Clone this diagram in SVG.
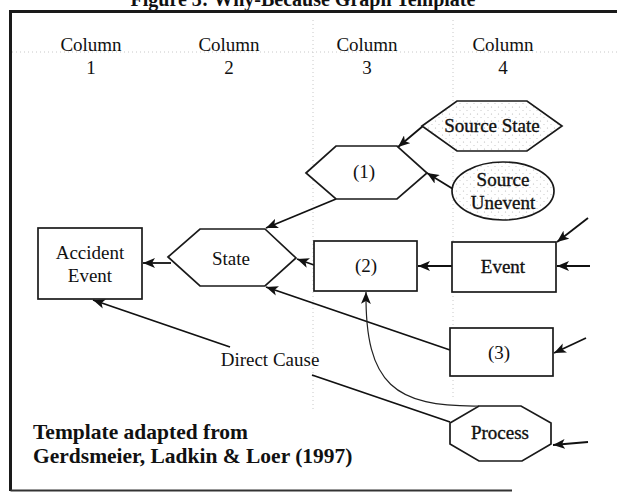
<svg xmlns="http://www.w3.org/2000/svg" width="617" height="493" viewBox="0 0 617 493">
  <style>
    .t { font-family: "Liberation Serif", "Times New Roman", serif; font-size: 19px; fill: #111; text-anchor: middle; }
    .heavy { stroke: #111; stroke-width: 0.35; }
    .b { font-weight: bold; }
    .shape { fill: #fff; stroke: #1a1a1a; stroke-width: 1.7; }
    .speck { fill: url(#speckle); stroke: #1a1a1a; stroke-width: 1.7; }
    .edge { fill: none; stroke: #111; stroke-width: 1.8; marker-end: url(#arrow); }
    .thin { fill: none; stroke: #222; stroke-width: 1.2; marker-end: url(#arrow); }
    .plain { fill: none; stroke: #111; stroke-width: 1.8; }
    .guide { fill: none; stroke: #c8c8c8; stroke-width: 1; stroke-dasharray: 1 3; }
  </style>
  <defs>
    <marker id="arrow" viewBox="0 0 12 10" markerWidth="12" markerHeight="10" refX="12" refY="5" orient="auto" markerUnits="userSpaceOnUse">
      <path d="M0,0 L12,5 L0,10 L3,5 z" fill="#111"/>
    </marker>
    <pattern id="speckle" width="7" height="7" patternUnits="userSpaceOnUse">
      <rect width="7" height="7" fill="#fff"/>
      <circle cx="1.5" cy="2" r="0.6" fill="#b4b4b4"/>
      <circle cx="5" cy="5.5" r="0.6" fill="#c4c4c4"/>
    </pattern>
  </defs>

  <rect width="617" height="493" fill="#fff"/>

  <!-- title, clipped by the top of the page -->
  <text class="t b" x="303" y="6" style="font-size:20px">Figure 3: Why-Because Graph Template</text>

  <!-- frame -->
  <path d="M10.5,491 L10.5,11.5 L617,11.5" fill="none" stroke="#1a1a1a" stroke-width="3"/>
  <path d="M10.5,490.5 L512,490.5" fill="none" stroke="#333" stroke-width="2.2"/>

  <!-- faint column guides -->
  <g id="guides">
    <path class="guide" d="M313,20 L313,410"/>
    <path class="guide" d="M453,20 L453,400"/>
    <path class="guide" d="M12,52 L617,52"/>
  </g>

  <!-- column headings -->
  <g id="headings">
    <text class="t" x="91" y="51">Column</text>
    <text class="t" x="91" y="74">1</text>
    <text class="t" x="229" y="51">Column</text>
    <text class="t" x="229" y="74">2</text>
    <text class="t" x="367" y="51">Column</text>
    <text class="t" x="367" y="74">3</text>
    <text class="t" x="503" y="51">Column</text>
    <text class="t" x="503" y="74">4</text>
  </g>

  <!-- connectors -->
  <g id="connectors">
    <path class="edge" d="M423,126 L398,147"/>
    <path class="edge" d="M453,189 L427,173"/>
    <path class="edge" d="M336,199 L266,228"/>
    <path class="edge" d="M314,265 L297,259"/>
    <path class="edge" d="M171,263 L143,263"/>
    <path class="edge" d="M450,350 L266,287"/>
    <path class="edge" d="M452,266 L418,266"/>
    <path class="edge" d="M588,218 L557,242"/>
    <path class="edge" d="M590,266 L557,266"/>
    <path class="edge" d="M586,338 L554,353"/>
    <path class="edge" d="M588,442 L553,445"/>
    <path class="thin" d="M479,406 C395,407 365,385 366,292"/>
    <path class="plain" d="M450,422 L312,375"/>
    <path class="edge" d="M230,347 L93,300"/>
  </g>

  <g id="source-state">
    <polygon class="speck" points="422,126 457,101 527,101 562,126 527,151 457,151"/>
    <text class="t heavy" x="492" y="132">Source State</text>
  </g>

  <g id="source-unevent">
    <ellipse class="speck" cx="503" cy="191" rx="51" ry="29"/>
    <text class="t heavy" x="503" y="186">Source</text>
    <text class="t heavy" x="503" y="209">Unevent</text>
  </g>

  <g id="state-1">
    <polygon class="shape" points="306,173 336,146 397,146 427,173 397,199 336,199"/>
    <text class="t" x="364" y="178">(1)</text>
  </g>

  <g id="state">
    <polygon class="shape" points="168,257 200,229 265,229 296,258 265,286 200,286"/>
    <text class="t" x="231" y="265">State</text>
  </g>

  <g id="accident-event">
    <rect class="shape" x="38" y="228" width="104" height="71"/>
    <text class="t" x="90" y="259">Accident</text>
    <text class="t" x="90" y="282">Event</text>
  </g>

  <g id="event-2">
    <rect class="shape" x="314" y="241" width="103" height="50"/>
    <text class="t" x="366" y="272">(2)</text>
  </g>

  <g id="event">
    <rect class="shape" x="452" y="242" width="104" height="50"/>
    <text class="t heavy" x="503" y="273">Event</text>
  </g>

  <g id="event-3">
    <rect class="shape" x="450" y="328" width="103" height="48"/>
    <text class="t" x="499" y="359">(3)</text>
  </g>

  <g id="process">
    <polygon class="shape" points="479,406 521,406 551,423 551,444 522,461 479,461 450,444 450,423"/>
    <text class="t heavy" x="500" y="439">Process</text>
  </g>

  <g id="direct-cause-label">
    <text class="t" x="270" y="366">Direct Cause</text>
  </g>

  <g id="credit">
    <text class="t b" x="33" y="439" style="font-size:21.5px;text-anchor:start">Template adapted from</text>
    <text class="t b" x="33" y="463" style="font-size:21.5px;text-anchor:start">Gerdsmeier, Ladkin &amp; Loer (1997)</text>
  </g>
</svg>
